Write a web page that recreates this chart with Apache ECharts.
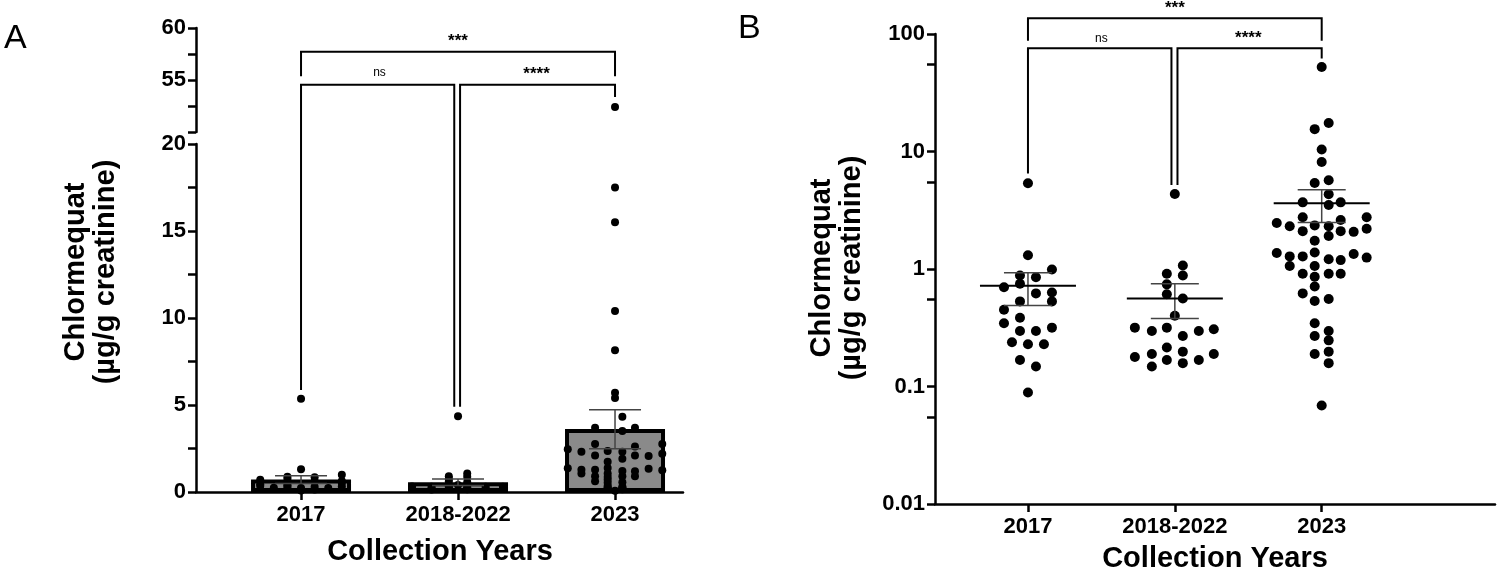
<!DOCTYPE html>
<html><head><meta charset="utf-8">
<script src="https://cdn.jsdelivr.net/npm/echarts@6/dist/echarts.min.js"></script>
<style>html,body{margin:0;padding:0;background:#fff}#c{width:1500px;height:579px}</style>
</head><body><div id="c"></div>
<script>
const categories = ['2017','2018-2022','2023'];
const vals2017 = [5.36,1.31,0.99,0.88,0.85,0.70,0.75,0.62,0.63,0.53,0.53,0.45,0.385,0.345,0.317,0.297,0.297,0.238,0.229,0.229,0.168,0.148,0.089];
const jit2017  = [0,0,24,-8,8,-24,-8,8,24,-8,24,-24,-8,-24,24,-8,8,-16,0,16,-8,8,0];
const vals2018 = [4.35,1.07,0.91,0.88,0.74,0.61,0.56,0.40,0.317,0.317,0.307,0.297,0.297,0.269,0.215,0.198,0.189,0.189,0.178,0.168,0.168,0.158,0.148];
const jit2018  = [0,8,-8,8,-8,-8,8,0,-40,-8,39,-23,24,8,-8,8,-23,39,-40,-8,24,8,-23];
const vals2023 = [52.4,17.5,15.5,10.4,8.15,5.4,5.7,4.32,3.69,3.5,3.69,2.76,2.61,2.76,2.46,2.31,2.35,2.31,2.10,2.10,2.07,2.2,1.91,1.74,1.37,1.38,1.34,1.28,1.28,1.25,1.21,1.19,1.06,1.06,0.91,0.91,0.91,0.86,0.71,0.62,0.535,0.556,0.345,0.297,0.269,0.247,0.189,0.198,0.158,0.069];
const jit2023  = [0,7,-7,0,0,-7,7,7,-19,7,19,-19,19,45,-45,-32,-7,7,-19,19,32,45,7,-7,-45,-7,32,-32,-19,45,7,19,-32,-7,-19,7,19,-7,-7,-19,-7,7,-7,7,-7,7,-7,7,7,0];
const means  = [0.72,0.56,3.62];
const ciLow  = [0.49,0.38,2.49];
const ciHigh = [0.93,0.75,4.72];
const yTicksA = [0,5,10,15,20];
const yTicksAUpper = [55,60];
const yTicksB = [0.01,0.1,1,10,100];
// significance brackets: [xLeft, xRight, yLeftEnd, yTop, yRightEnd]
const bracketsA = [[1,3,23.9,25.3,23.9],[1,1.976,5.86,23.4,4.9],[2.013,3,4.9,23.4,22.7]];
const bracketsB = [[1,3,87.7,136,87.7],[1,1.977,6.5,75.5,5.19],[2.018,3,5.19,75.5,62]];
const sigLabels = ['***','ns','****'];
const sigPosA = [[2,25.9],[1.5,24.1],[2.5,24.0]];
const sigPosB = [[2,166],[1.5,92],[2.5,92]];

const groups = [vals2017, vals2018, vals2023];
const jits = [jit2017, jit2018, jit2023];
const jitScaleA = [1.7, 1.15, 1.05];

const FONT = 'Liberation Sans, Arial, sans-serif';
const axisLine = {show:true, lineStyle:{color:'#000', width:2.5}};
function xAxisDef(gi, show, min, max){
  return {type:'value', gridIndex:gi, min:min, max:max, show:show,
    axisLine:axisLine, splitLine:{show:false},
    axisTick:{show:true, customValues:[1,2,3], length:8, lineStyle:{width:2.5,color:'#000'}},
    axisLabel:{show:true, customValues:[1,2,3], formatter:v=>categories[Math.round(v)-1], color:'#000', fontSize:22, fontWeight:'bold', fontFamily:FONT, margin:12}};
}
function pts(panel){
  const out=[];
  groups.forEach((g,gi)=>g.forEach((v,i)=>{
    let px;
    if(panel==='A') px = v>5 ? 0 : jits[gi][i]*jitScaleA[gi]/157;
    else px = jits[gi][i]/147;
    out.push([gi+1+px, v]);
  }));
  return out;
}
const ptsA = pts('A'), ptsB = pts('B');

function errSeries(xi, yi, meanHalf, whHalf, showMean){
  return {type:'custom', xAxisIndex:xi, yAxisIndex:yi, z:5, clip:false,
    data: means.map((m,i)=>[i+1, m, ciLow[i], ciHigh[i]]),
    encode:{x:0,y:1},
    renderItem:(p,api)=>{
      const x=api.value(0), c=api.coord([x,api.value(1)]), lo=api.coord([x,api.value(2)]), hi=api.coord([x,api.value(3)]);
      const ch=[
        {type:'line',shape:{x1:c[0],y1:lo[1],x2:c[0],y2:hi[1]},style:{stroke:'#444',lineWidth:1.5}},
        {type:'line',shape:{x1:c[0]-whHalf,y1:lo[1],x2:c[0]+whHalf,y2:lo[1]},style:{stroke:'#444',lineWidth:1.5}},
        {type:'line',shape:{x1:c[0]-whHalf,y1:hi[1],x2:c[0]+whHalf,y2:hi[1]},style:{stroke:'#444',lineWidth:1.5}}];
      if(showMean) ch.push({type:'line',shape:{x1:c[0]-meanHalf,y1:c[1],x2:c[0]+meanHalf,y2:c[1]},style:{stroke:'#000',lineWidth:2}});
      return {type:'group',children:ch};
    }};
}
function bracketSeries(xi, yi, br, pos){
  return [{type:'custom', xAxisIndex:xi, yAxisIndex:yi, z:6, clip:false,
    data: br.map(b=>[b[0],b[3],b[1],b[2],b[4]]), encode:{x:0,y:1},
    renderItem:(p,api)=>{
      const xl=api.value(0), yt=api.value(1), xr=api.value(2), yl=api.value(3), yr=api.value(4);
      const a=api.coord([xl,yl]), b=api.coord([xl,yt]), c=api.coord([xr,yt]), d=api.coord([xr,yr]);
      return {type:'polyline',shape:{points:[a,b,c,d]},style:{stroke:'#000',lineWidth:2,fill:null}};
    }},
   {type:'custom', xAxisIndex:xi, yAxisIndex:yi, z:6, clip:false,
    data: pos.map((p,i)=>[p[0],p[1],i]), encode:{x:0,y:1},
    renderItem:(p,api)=>{
      const c=api.coord([api.value(0),api.value(1)]); const t=sigLabels[api.value(2)];
      return {type:'text',x:c[0],y:c[1],style:{text:t,align:'center',verticalAlign:'middle',fill:'#000',
        font: t==='ns' ? '12px '+FONT : 'bold 17px '+FONT}};
    }}];
}

const chart = echarts.init(document.getElementById('c'));
const yLabel = {color:'#000', fontSize:22, fontWeight:'bold', fontFamily:FONT, margin:10};
const titleFont = 'bold 29px '+FONT;
chart.setOption({
  animation:false,
  grid:[
    {left:196, top:28, width:487, height:104},
    {left:196, top:144, width:487, bottom:87},
    {left:935, top:34, right:5, bottom:75}
  ],
  xAxis:[
    xAxisDef(0,false,0.331,3.433),
    xAxisDef(1,true,0.331,3.433),
    xAxisDef(2,true,0.367,4.18)
  ],
  yAxis:[
    {type:'value', gridIndex:0, min:50, max:60, interval:2.5, axisLine:axisLine, splitLine:{show:false},
     axisTick:{show:true,length:8,lineStyle:{width:2.5,color:'#000'}},
     axisLabel:Object.assign({}, yLabel, {formatter:v=>yTicksAUpper.includes(v)?String(v):''})},
    {type:'value', gridIndex:1, min:0, max:20, interval:2.5, axisLine:axisLine, splitLine:{show:false},
     axisTick:{show:true,length:8,lineStyle:{width:2.5,color:'#000'}},
     axisLabel:Object.assign({}, yLabel, {formatter:v=>yTicksA.includes(v)?String(v):''})},
    {type:'log', gridIndex:2, logBase:10, min:0.01, max:100, axisLine:axisLine, splitLine:{show:false},
     axisTick:{show:true,length:8,lineStyle:{width:2.5,color:'#000'}},
     minorTick:{show:true,splitNumber:2,length:8,lineStyle:{width:2.5,color:'#000'}},
     axisLabel:Object.assign({}, yLabel, {formatter:v=>{const t=yTicksB.find(u=>Math.abs(u-v)/u<1e-6);return t!==undefined?String(t):'';}})}
  ],
  series:[
    {type:'bar', xAxisIndex:1, yAxisIndex:1, barWidth:100, z:2,
     data: means.map((m,i)=>[i+1,m]),
     itemStyle:{color:'#8a8a8a', borderColor:'#000', borderWidth:4}},
    {type:'scatter', xAxisIndex:1, yAxisIndex:1, symbolSize:8, z:4, itemStyle:{color:'#000',opacity:1},
     data: ptsA.filter(p=>p[1]<=20)},
    {type:'scatter', xAxisIndex:0, yAxisIndex:0, symbolSize:8, z:4, itemStyle:{color:'#000',opacity:1},
     data: ptsA.filter(p=>p[1]>=50)},
    errSeries(1,1,0,26,false),
    {type:'scatter', xAxisIndex:2, yAxisIndex:2, symbolSize:10, z:4, itemStyle:{color:'#000',opacity:1}, data: ptsB},
    errSeries(2,2,48,24,true),
    ...bracketSeries(1,1,bracketsA,sigPosA),
    ...bracketSeries(2,2,bracketsB,sigPosB)
  ],
  graphic:[
    {type:'text', left:4, top:22, style:{text:'A', font:'34px '+FONT, fill:'#000'}},
    {type:'text', left:738, top:12, style:{text:'B', font:'34px '+FONT, fill:'#000'}},
    {type:'text', x:76, y:272, rotation:Math.PI/2, style:{text:'Chlormequat', font:titleFont, fill:'#000', align:'center', verticalAlign:'middle'}},
    {type:'text', x:106, y:272, rotation:Math.PI/2, style:{text:'(\u00b5g/g creatinine)', font:titleFont, fill:'#000', align:'center', verticalAlign:'middle'}},
    {type:'text', x:822, y:268, rotation:Math.PI/2, style:{text:'Chlormequat', font:titleFont, fill:'#000', align:'center', verticalAlign:'middle'}},
    {type:'text', x:852, y:268, rotation:Math.PI/2, style:{text:'(\u00b5g/g creatinine)', font:titleFont, fill:'#000', align:'center', verticalAlign:'middle'}},
    {type:'text', x:440, y:552, style:{text:'Collection Years', font:titleFont, fill:'#000', align:'center', verticalAlign:'middle'}},
    {type:'text', x:1215, y:559, style:{text:'Collection Years', font:titleFont, fill:'#000', align:'center', verticalAlign:'middle'}}
  ]
});
</script></body></html>
